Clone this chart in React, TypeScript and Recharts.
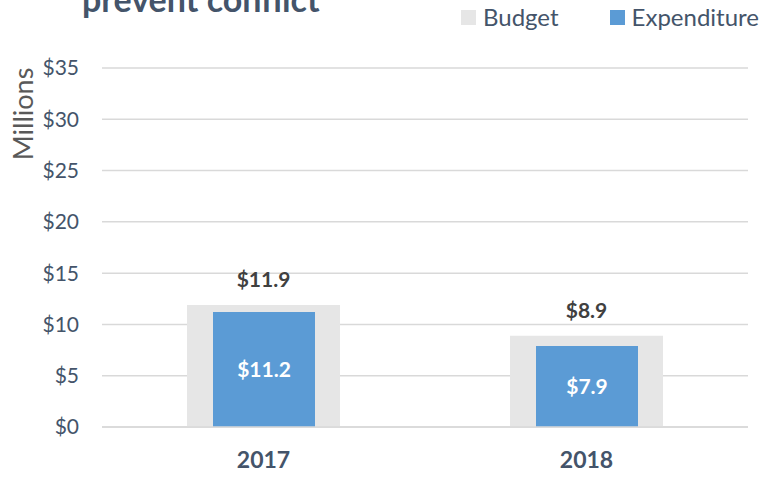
import React from 'react';
import { BarChart, Bar, XAxis, YAxis, CartesianGrid, LabelList } from 'recharts';

const years = ['2017', '2018'];
const budget = [11.9, 8.9];
const expenditure = [11.2, 7.9];
const yTicks = [0, 5, 10, 15, 20, 25, 30, 35];

const data = years.map((y, i) => ({ year: y, budget: budget[i], expenditure: expenditure[i] }));

const FONT = 'Lato, "Noto Sans", sans-serif';
const money = (v: number) => `$${v}`;
const money1 = (v: number) => `$${Number(v).toFixed(1)}`;

export default function App() {
  return (
    <div style={{ position: 'absolute', left: 0, top: 0, width: 766, height: 478, background: '#fff', overflow: 'hidden' }}>
      <div style={{ position: 'absolute', left: 82, top: -22, fontFamily: FONT, fontWeight: 700, fontSize: 34, color: '#44546A', whiteSpace: 'nowrap', lineHeight: '42px' }}>
        prevent conflict
      </div>
      <div style={{ position: 'absolute', left: 461, top: 1, display: 'flex', alignItems: 'center', fontFamily: FONT, fontSize: 24, color: '#44546A', whiteSpace: 'nowrap', lineHeight: '32px' }}>
        <span style={{ width: 15, height: 15, background: '#E6E6E6', display: 'inline-block', marginRight: 7 }} />
        <span style={{ marginRight: 51 }}>Budget</span>
        <span style={{ width: 15, height: 15, background: '#5B9BD5', display: 'inline-block', marginRight: 7 }} />
        <span>Expenditure</span>
      </div>
      <div style={{ position: 'absolute', left: 22, top: 114, width: 0, height: 0 }}>
        <div style={{ position: 'absolute', transform: 'translate(-50%, -50%) rotate(-90deg)', fontFamily: FONT, fontSize: 27, color: '#595959', whiteSpace: 'nowrap' }}>
          Millions
        </div>
      </div>
      <BarChart width={766} height={478} data={data} margin={{ top: 68, right: 18, bottom: 21, left: 22 }}>
        <CartesianGrid vertical={false} stroke="#D9D9D9" strokeWidth={1.5} />
        <XAxis xAxisId="a" dataKey="year" axisLine={{ stroke: '#D9D9D9', strokeWidth: 1.5 }} tickLine={false} height={30} tickSize={0} tickMargin={25}
          tick={{ fill: '#44546A', fontFamily: FONT, fontSize: 23, fontWeight: 700 }} />
        <XAxis xAxisId="b" dataKey="year" hide />
        <YAxis domain={[0, 35]} ticks={yTicks} tickFormatter={money} width={80} axisLine={false} tickLine={false} tickSize={0} tickMargin={23}
          tick={{ fill: '#44546A', fontFamily: FONT, fontSize: 21 }} interval={0} />
        <Bar xAxisId="a" dataKey="budget" name="Budget" fill="#E6E6E6" barSize={153} isAnimationActive={false}>
          <LabelList dataKey="budget" position="top" offset={18} formatter={money1}
            style={{ fill: '#404040', fontFamily: FONT, fontSize: 21, fontWeight: 700 }} />
        </Bar>
        <Bar xAxisId="b" dataKey="expenditure" name="Expenditure" fill="#5B9BD5" barSize={102} isAnimationActive={false}>
          <LabelList dataKey="expenditure" position="center" formatter={money1}
            style={{ fill: '#FFFFFF', fontFamily: FONT, fontSize: 21, fontWeight: 700 }} />
        </Bar>
      </BarChart>
    </div>
  );
}
